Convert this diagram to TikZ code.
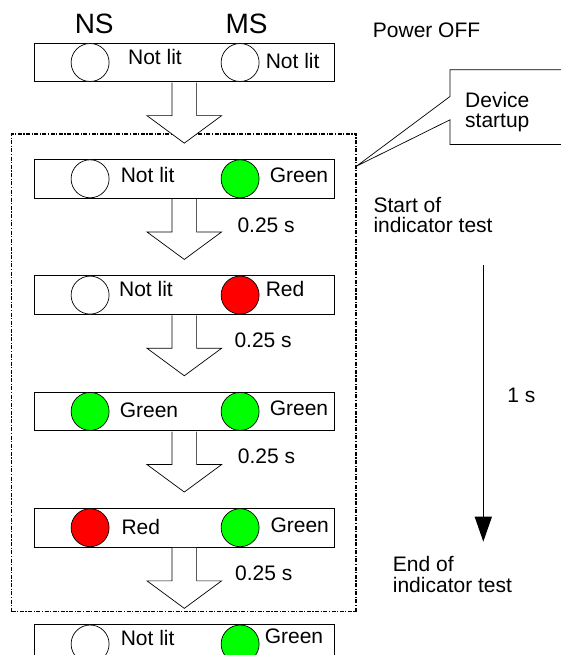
\documentclass[tikz,border=0pt]{standalone}
\usepackage{fontspec}
\setmainfont{Liberation Sans}
\usetikzlibrary{arrows.meta,positioning}
\definecolor{ledgreen}{HTML}{00FF00}
\definecolor{ledred}{HTML}{FF0000}

\begin{document}
\begin{tikzpicture}[
    x=1pt, y=-1pt,
    font=\fontsize{21}{20.6}\selectfont,
    panel/.style={draw, line width=0.8pt, minimum width=300pt, minimum height=38.5pt, inner sep=0pt},
    lamp/.style={draw, circle, line width=0.7pt, minimum size=38pt, inner sep=0pt, fill=white},
    ledtext/.style={anchor=base west, inner sep=0pt},
    side/.style={anchor=base west, inner sep=0pt, align=left},
    colhead/.style={anchor=base, inner sep=0pt, font=\fontsize{28}{30}\selectfont},
    testframe/.style={draw, line width=1.2pt, dash pattern=on 4pt off 1.5pt on 1.2pt off 1.5pt, minimum width=344.3pt, minimum height=477.7pt, inner sep=0pt},
    notebox/.style={line width=0.7pt},
    timeline/.style={-{Triangle[length=25pt,width=17pt]}, line width=1.4pt},
    steparrow/.pic={\filldraw[fill=white, line width=0.7pt] (-12.3,0.6) -- (-12.3,33.5) -- (-37.3,33.5) -- (0,61) -- (37.3,33.5) -- (12.3,33.5) -- (12.3,0.6);}
]
\useasboundingbox (0,0) rectangle (560,655);

% Indicator test frame and its callout
\node[testframe] (testbox) at (183.85,372.85) {};
\coordinate (tip) at ([yshift=-32.7pt]testbox.north east);
\node[anchor=west, minimum width=120pt, minimum height=74.3pt, inner sep=0pt] (device) at (450,107.15) {};
\draw[notebox] (device.north east) -- (device.north west) -- ([yshift=-26.7pt]device.north west) -- (tip)
    -- ([yshift=-50pt]device.north west) -- (device.south west) -- (device.south east);
\node[side] (devtext) at ([xshift=15pt, yshift=-20.55pt]device.west) {Device\\startup};

% Column heads
\node[colhead] (nshead) at (94.2,33.3) {NS};
\node[colhead] (mshead) at (246.5,33.3) {MS};

% States (one row per step)
\node[panel] (r1) at (184.3,62.5) {};
\node[panel, below=77pt of r1] (r2) {};
\node[panel, below=77pt of r2] (r3) {};
\node[panel, below=77pt of r3] (r4) {};
\node[panel, below=77pt of r4] (r5) {};
\node[panel, below=77pt of r5] (r6) {};

\node[lamp] (ns1) at ([xshift=56.2pt]r1.west) {};
\node[lamp] (ms1) at ([xshift=206.2pt]r1.west) {};
\node[lamp] (ns2) at ([xshift=56.2pt]r2.west) {};
\node[lamp, fill=ledgreen] (ms2) at ([xshift=206.2pt]r2.west) {};
\node[lamp] (ns3) at ([xshift=56.2pt]r3.west) {};
\node[lamp, fill=ledred] (ms3) at ([xshift=206.2pt]r3.west) {};
\node[lamp, fill=ledgreen] (ns4) at ([xshift=56.2pt]r4.west) {};
\node[lamp, fill=ledgreen] (ms4) at ([xshift=206.2pt]r4.west) {};
\node[lamp, fill=ledred] (ns5) at ([xshift=56.2pt]r5.west) {};
\node[lamp, fill=ledgreen] (ms5) at ([xshift=206.2pt]r5.west) {};
\node[lamp] (ns6) at ([xshift=56.2pt]r6.west) {};
\node[lamp, fill=ledgreen] (ms6) at ([xshift=206.2pt]r6.west) {};

\node[ledtext] (t1a) at ([xshift=94pt, yshift=-2.5pt]r1.west) {Not lit};
\node[ledtext] (t1b) at ([xshift=231.7pt, yshift=-5.8pt]r1.west) {Not lit};
\node[ledtext] (t2a) at ([xshift=86.7pt, yshift=-3.7pt]r2.west) {Not lit};
\node[ledtext] (t2b) at ([xshift=235.7pt, yshift=-3.7pt]r2.west) {Green};
\node[ledtext] (t3a) at ([xshift=85pt, yshift=-1.5pt]r3.west) {Not lit};
\node[ledtext] (t3b) at ([xshift=231.7pt, yshift=-1.5pt]r3.west) {Red};
\node[ledtext] (t4a) at ([xshift=85.7pt, yshift=-6pt]r4.west) {Green};
\node[ledtext] (t4b) at ([xshift=235.7pt, yshift=-4.3pt]r4.west) {Green};
\node[ledtext] (t5a) at ([xshift=87.4pt, yshift=-6.5pt]r5.west) {Red};
\node[ledtext] (t5b) at ([xshift=236.4pt, yshift=-4.5pt]r5.west) {Green};
\node[ledtext] (t6a) at ([xshift=86.7pt, yshift=-1pt]r6.west) {Not lit};
\node[ledtext] (t6b) at ([xshift=230.7pt, yshift=1pt]r6.west) {Green};

% Block arrows between the rows
\pic at (r1.south) {steparrow};
\pic at (r2.south) {steparrow};
\pic at (r3.south) {steparrow};
\pic at (r4.south) {steparrow};
\pic at (r5.south) {steparrow};

\node[ledtext] (d2) at ([xshift=53pt, yshift=-34.5pt]r2.south) {0.25 s};
\node[ledtext] (d3) at ([xshift=50pt, yshift=-32.3pt]r3.south) {0.25 s};
\node[ledtext] (d4) at ([xshift=53.4pt, yshift=-32.5pt]r4.south) {0.25 s};
\node[ledtext] (d5) at ([xshift=50.7pt, yshift=-33pt]r5.south) {0.25 s};

% Right-hand notes and time axis
\node[side] (power) at (372.7,37.3) {Power OFF};
\node[side] (start) at (373.3,232.7) {Start of\\indicator test};
\node[side] (finish) at (392.7,592.3) {End of\\indicator test};

\coordinate (time0) at (483.3,265);
\coordinate (time1) at (483.3,541.7);
\draw[timeline] (time0) -- (time1) node[pos=0.5, anchor=base west, inner sep=0pt, xshift=23.4pt, yshift=1.3pt] (onesec) {1 s};

\end{tikzpicture}
\end{document}
